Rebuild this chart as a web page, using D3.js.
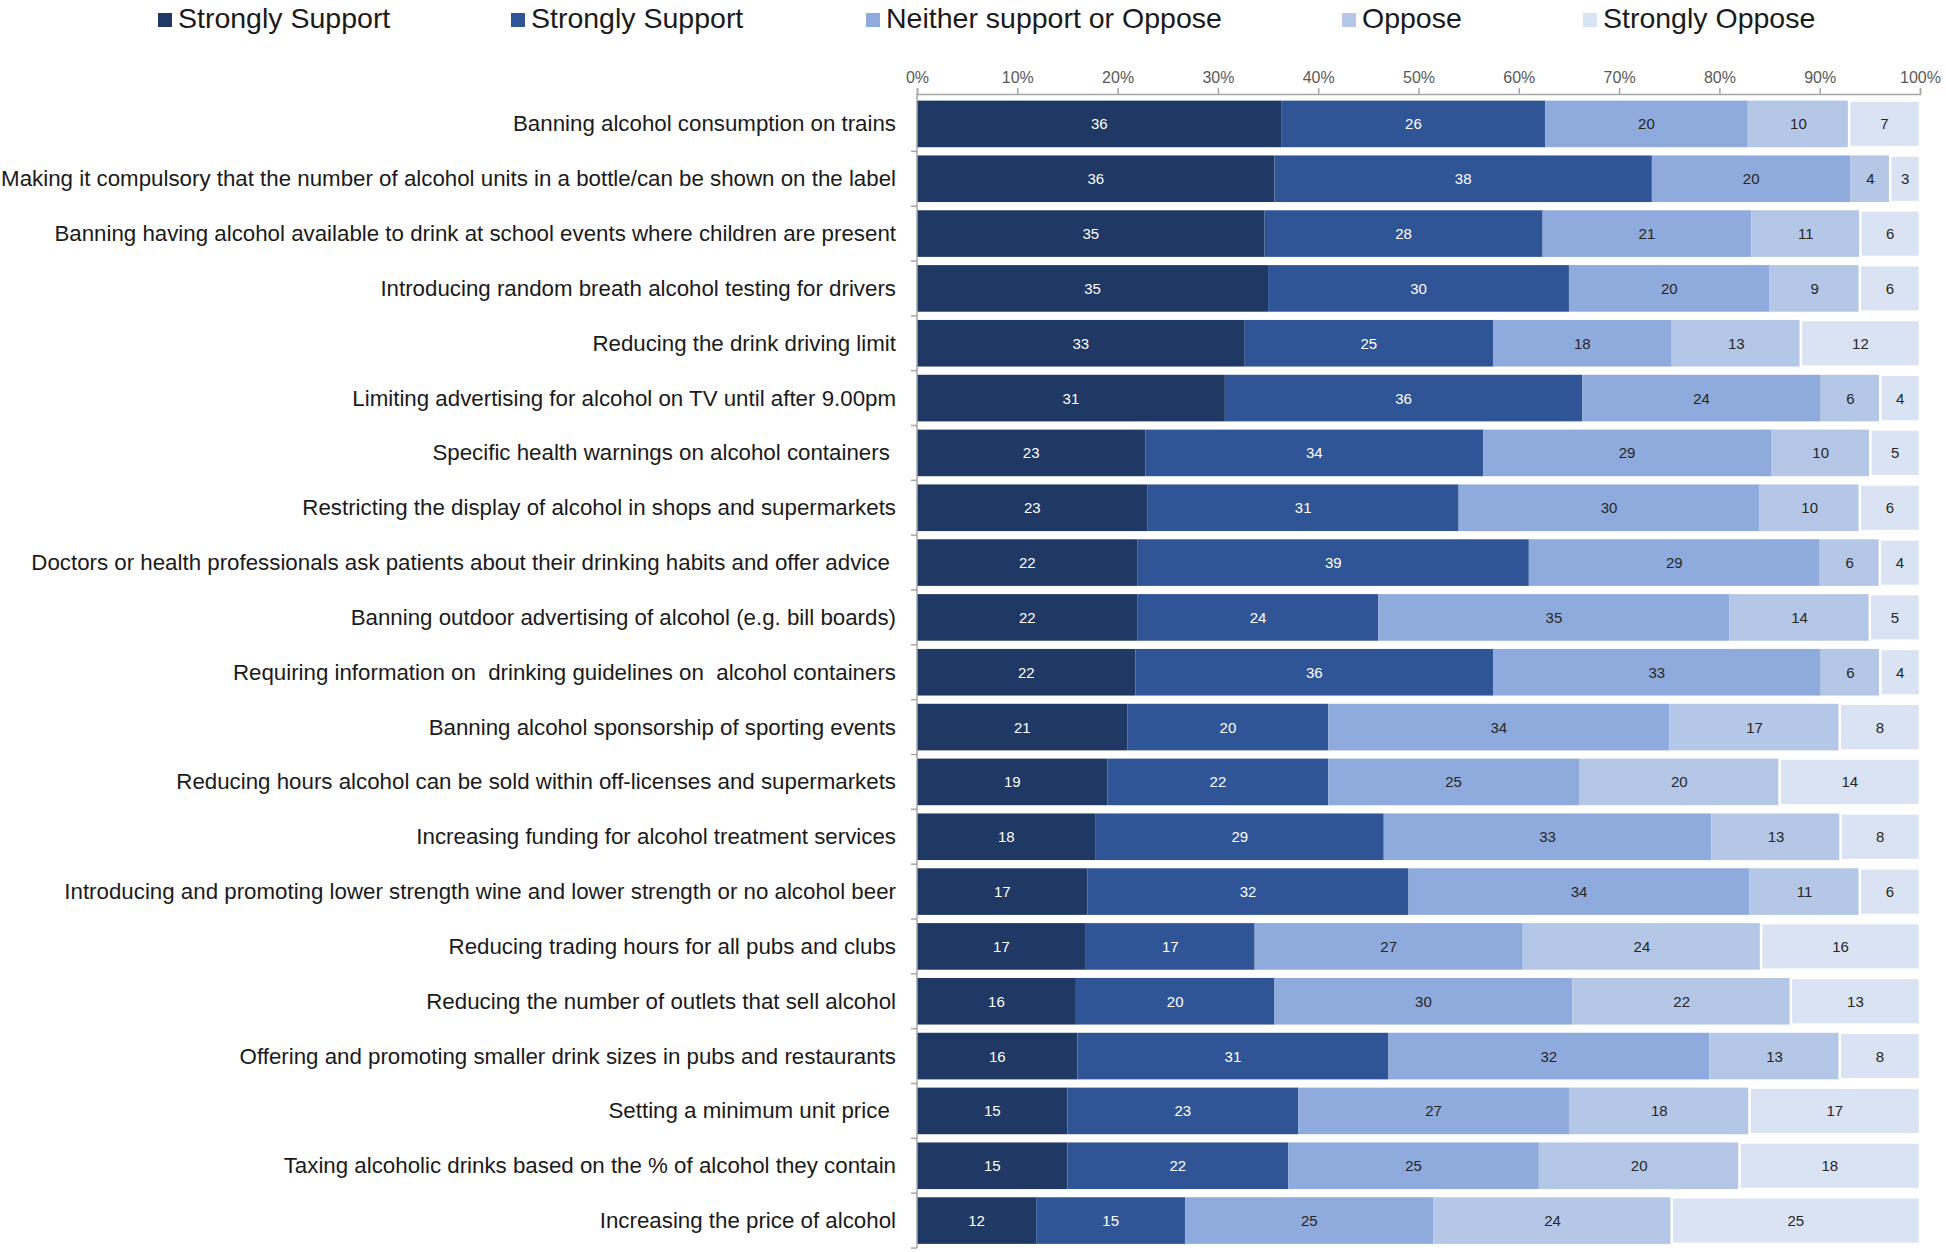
<!DOCTYPE html>
<html><head><meta charset="utf-8">
<script src="https://cdn.jsdelivr.net/npm/d3@7"></script>
<style>
body{margin:0;background:#fff}
text{font-family:"Liberation Sans",Arial,sans-serif}
</style>
</head><body>
<svg id="chart" width="1946" height="1252"></svg>
<script>
const categories = [
  "Banning alcohol consumption on trains",
  "Making it compulsory that the number of alcohol units in a bottle/can be shown on the label",
  "Banning having alcohol available to drink at school events where children are present",
  "Introducing random breath alcohol testing for drivers",
  "Reducing the drink driving limit",
  "Limiting advertising for alcohol on TV until after 9.00pm",
  "Specific health warnings on alcohol containers ",
  "Restricting the display of alcohol in shops and supermarkets",
  "Doctors or health professionals ask patients about their drinking habits and offer advice ",
  "Banning outdoor advertising of alcohol (e.g. bill boards)",
  "Requiring information on  drinking guidelines on  alcohol containers",
  "Banning alcohol sponsorship of sporting events",
  "Reducing hours alcohol can be sold within off-licenses and supermarkets",
  "Increasing funding for alcohol treatment services",
  "Introducing and promoting lower strength wine and lower strength or no alcohol beer",
  "Reducing trading hours for all pubs and clubs",
  "Reducing the number of outlets that sell alcohol",
  "Offering and promoting smaller drink sizes in pubs and restaurants",
  "Setting a minimum unit price ",
  "Taxing alcoholic drinks based on the % of alcohol they contain",
  "Increasing the price of alcohol"
];
const seriesNames = ["Strongly Support","Strongly Support","Neither support or Oppose","Oppose","Strongly Oppose"];
const stronglySupport = [36,36,35,35,33,31,23,23,22,22,22,21,19,18,17,17,16,16,15,15,12];
const support         = [26,38,28,30,25,36,34,31,39,24,36,20,22,29,32,17,20,31,23,22,15];
const neither         = [20,20,21,20,18,24,29,30,29,35,33,34,25,33,34,27,30,32,27,25,25];
const oppose          = [10, 4,11, 9,13, 6,10,10, 6,14, 6,17,20,13,11,24,22,13,18,20,24];
const stronglyOppose  = [ 7, 3, 6, 6,12, 4, 5, 6, 4, 5, 4, 8,14, 8, 6,16,13, 8,17,18,25];
const tickValues = [0,0.1,0.2,0.3,0.4,0.5,0.6,0.7,0.8,0.9,1];
const colors = ["#1F3864","#2F5597","#8FAADC","#B4C7E7","#DAE3F3"];
const labelColors = ["#ffffff","#ffffff","#262626","#262626","#262626"];

const seriesArrays = [stronglySupport, support, neither, oppose, stronglyOppose];
const rows = categories.map((c,i)=>{
  const r = {cat:c};
  seriesArrays.forEach((arr,k)=>{ r[k]=arr[i]; });
  return r;
});
const keys = [0,1,2,3,4];
const stacked = d3.stack().keys(keys).offset(d3.stackOffsetExpand)(rows);

const svg = d3.select("#chart");
const x = d3.scaleLinear().domain([0,1]).range([917,1920]);
const y = d3.scaleBand().domain(categories).range([96.5,1248]).paddingInner(0.15).paddingOuter(0.075);

// bars
const g = svg.append("g");
stacked.forEach((layer,k)=>{
  const lg = g.append("g");
  lg.selectAll("rect").data(layer).join("rect")
    .attr("x", d=>x(d[0]))
    .attr("y", d=>y(d.data.cat))
    .attr("width", d=>x(d[1])-x(d[0]))
    .attr("height", y.bandwidth())
    .attr("fill", colors[k])
    .attr("stroke", k===4 ? "#ffffff" : "none")
    .attr("stroke-width", k===4 ? 2.5 : 0);
  lg.selectAll("text").data(layer).join("text")
    .attr("x", d=>(x(d[0])+x(d[1]))/2)
    .attr("y", d=>y(d.data.cat)+y.bandwidth()/2)
    .attr("text-anchor","middle")
    .attr("dominant-baseline","central")
    .attr("font-size",15)
    .attr("fill", labelColors[k])
    .text(d=>d.data[k]);
});

// top axis
const ax = svg.append("g").attr("transform","translate(0,94)")
  .call(d3.axisTop(x).tickValues(tickValues).tickFormat(d3.format(".0%")).tickSize(6).tickSizeOuter(6));
ax.select(".domain").attr("stroke","#a6a6a6").attr("stroke-width",1.5);
ax.selectAll(".tick line").attr("stroke","#a6a6a6").attr("stroke-width",1.5);
ax.selectAll(".tick text").attr("font-size",16).attr("fill","#595959").attr("font-family","Liberation Sans, Arial, sans-serif").attr("dy","-0.1em");

// left axis
const la = svg.append("g");
const half = (y.step()-y.bandwidth())/2;
const bounds = categories.map(c=>y(c)-half).concat([y(categories[categories.length-1])+y.bandwidth()+half]);
la.append("line").attr("x1",x(0)).attr("x2",x(0)).attr("y1",94).attr("y2",y.range()[1])
  .attr("stroke","#a6a6a6").attr("stroke-width",1.5);
la.selectAll("line.t").data(bounds.slice(1)).join("line").attr("class","t")
  .attr("x1",x(0)-6).attr("x2",x(0)).attr("y1",d=>d).attr("y2",d=>d)
  .attr("stroke","#a6a6a6").attr("stroke-width",1.5);
la.selectAll("text").data(categories).join("text")
  .attr("x", x(0)-21)
  .attr("y", d=>y(d)+y.bandwidth()/2)
  .attr("text-anchor","end")
  .attr("dominant-baseline","central")
  .attr("font-size",22.3)
  .attr("fill","#1a1a1a")
  .style("white-space","pre")
  .text(d=>d);

// legend
const legendX = [158,511,866,1342,1583];
const lg = svg.append("g");
seriesNames.forEach((n,k)=>{
  lg.append("rect").attr("x",legendX[k]).attr("y",13).attr("width",14).attr("height",14).attr("fill",colors[k]);
  lg.append("text").attr("x",legendX[k]+20).attr("y",28).attr("font-size",28.5).attr("fill","#1a1a1a").text(n);
});
</script>
</body></html>
